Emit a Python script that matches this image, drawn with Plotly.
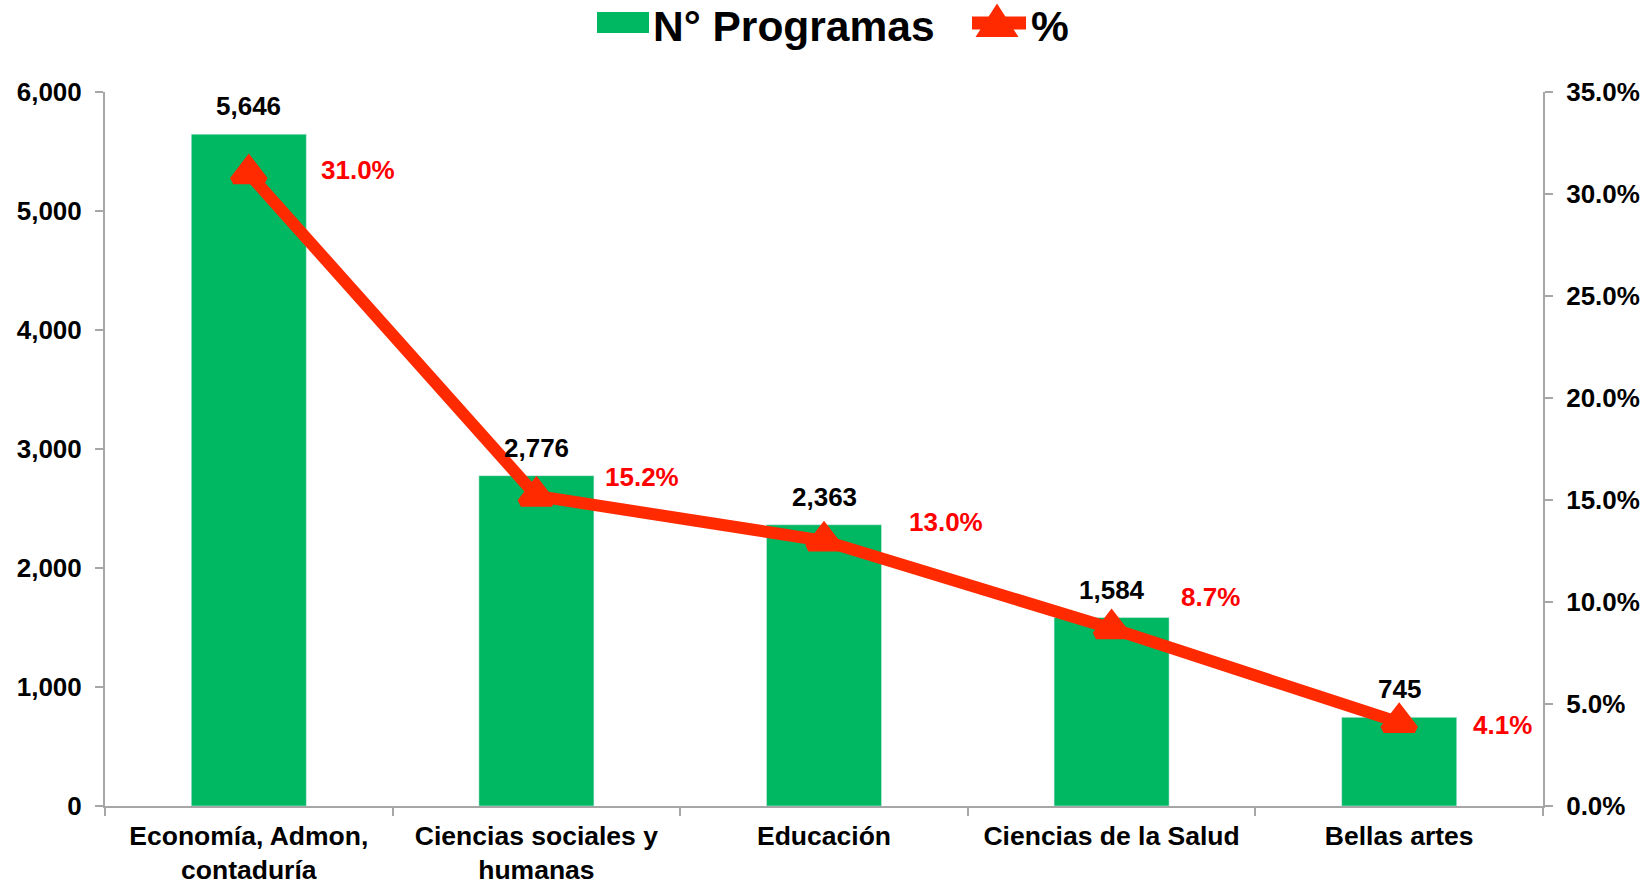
import plotly.graph_objects as go

categories = ["Economía, Admon,<br>contaduría", "Ciencias sociales y<br>humanas", "Educación",
              "Ciencias de la Salud", "Bellas artes"]
programas = [5646, 2776, 2363, 1584, 745]
porcentaje = [0.310, 0.152, 0.130, 0.087, 0.041]
y_left_ticks = [0, 1000, 2000, 3000, 4000, 5000, 6000]
y_right_ticks = [0, 0.05, 0.10, 0.15, 0.20, 0.25, 0.30, 0.35]

# label offsets (style, pixels)
pct_dx = [70, 67, 83, 67, 72]
pct_dy = [4, 19, 19, 32, -3]

W, H = 1652, 885
L, R, T, B = 105, 109, 92, 79
PW, PH = W - L - R, H - T - B

GREEN = "#00B862"
LINE = "#FF2A00"
FONT = "Liberation Sans"
AXC = "#A6A6A6"


def px(x):
    # x in window pixels -> paper
    return (x - L) / PW


def py(y):
    # y in window pixels -> paper
    return (H - B - y) / PH


fig = go.Figure()
fig.add_trace(go.Bar(x=categories, y=programas, name="N° Programas", marker_color=GREEN,
                     width=0.4, yaxis="y", showlegend=False))
fig.add_trace(go.Scatter(x=categories, y=porcentaje, name="%", mode="lines+markers",
                         line=dict(color=LINE, width=12),
                         marker=dict(symbol="triangle-up", size=27, color=LINE,
                                     line=dict(color=LINE, width=8)),
                         yaxis="y2", showlegend=False))

annotations = []
for c, v in zip(categories, programas):
    annotations.append(dict(x=c, y=v, xref="x", yref="y", text=f"{v:,}", showarrow=False,
                            yshift=28, yanchor="middle",
                            font=dict(family=FONT, size=26, color="black", weight="bold")))
for c, p, dx, dy in zip(categories, porcentaje, pct_dx, pct_dy):
    annotations.append(dict(x=c, y=p, xref="x", yref="y2", text=f"{p:.1%}", showarrow=False,
                            xanchor="left", yanchor="middle", xshift=dx, yshift=dy,
                            font=dict(family=FONT, size=26, color="#FF0000", weight="bold")))

# manual legend
annotations.append(dict(x=px(651), y=py(26), xref="paper", yref="paper", text="N° Programas",
                        showarrow=False, xanchor="left", yanchor="middle",
                        font=dict(family=FONT, size=42.5, color="black", weight="bold")))
annotations.append(dict(x=px(1029), y=py(26), xref="paper", yref="paper", text="%",
                        showarrow=False, xanchor="left", yanchor="middle",
                        font=dict(family=FONT, size=42.5, color="black", weight="bold")))

shapes = [
    dict(type="rect", xref="paper", yref="paper", x0=px(597), x1=px(649), y0=py(33), y1=py(12),
         fillcolor=GREEN, line=dict(width=0)),
    dict(type="line", xref="paper", yref="paper", x0=px(972), x1=px(1026), y0=py(23), y1=py(23),
         line=dict(color=LINE, width=13)),
    dict(type="path", xref="paper", yref="paper",
         path=f"M {px(981)},{py(34)} L {px(1013)},{py(34)} L {px(997)},{py(9)} Z",
         fillcolor=LINE, line=dict(color=LINE, width=6)),
]

fig.update_layout(
    width=W, height=H,
    margin=dict(l=L, r=R, t=T, b=B, autoexpand=False),
    paper_bgcolor="white", plot_bgcolor="white",
    font=dict(family=FONT, color="black"),
    showlegend=False,
    xaxis=dict(type="category", showline=True, linecolor=AXC, linewidth=2, ticks="outside",
               tickson="boundaries", ticklen=8, tickcolor=AXC, tickwidth=2, showgrid=False,
               ticklabelstandoff=5, automargin=False,
               tickfont=dict(family=FONT, size=26.5, color="black", weight="bold"),
               range=[-0.5, 4.5]),
    yaxis=dict(range=[0, 6000], tickvals=y_left_ticks, tickformat=",", showline=True,
               linecolor=AXC, linewidth=2, ticks="outside", ticklen=8, tickcolor=AXC, tickwidth=2,
               showgrid=False, zeroline=False, ticklabelstandoff=8, automargin=False,
               tickfont=dict(family=FONT, size=26, color="black", weight="bold")),
    yaxis2=dict(range=[0, 0.35], tickvals=y_right_ticks, tickformat=".1%", overlaying="y",
                side="right", showline=True, linecolor=AXC, linewidth=2, ticks="outside",
                ticklen=8, tickcolor=AXC, tickwidth=2, showgrid=False, zeroline=False,
                ticklabelstandoff=8, automargin=False,
                tickfont=dict(family=FONT, size=26, color="black", weight="bold")),
    annotations=annotations,
    shapes=shapes,
)

fig.write_html("out.html", config={"displayModeBar": False},
               post_script="document.body.style.margin='0';")
